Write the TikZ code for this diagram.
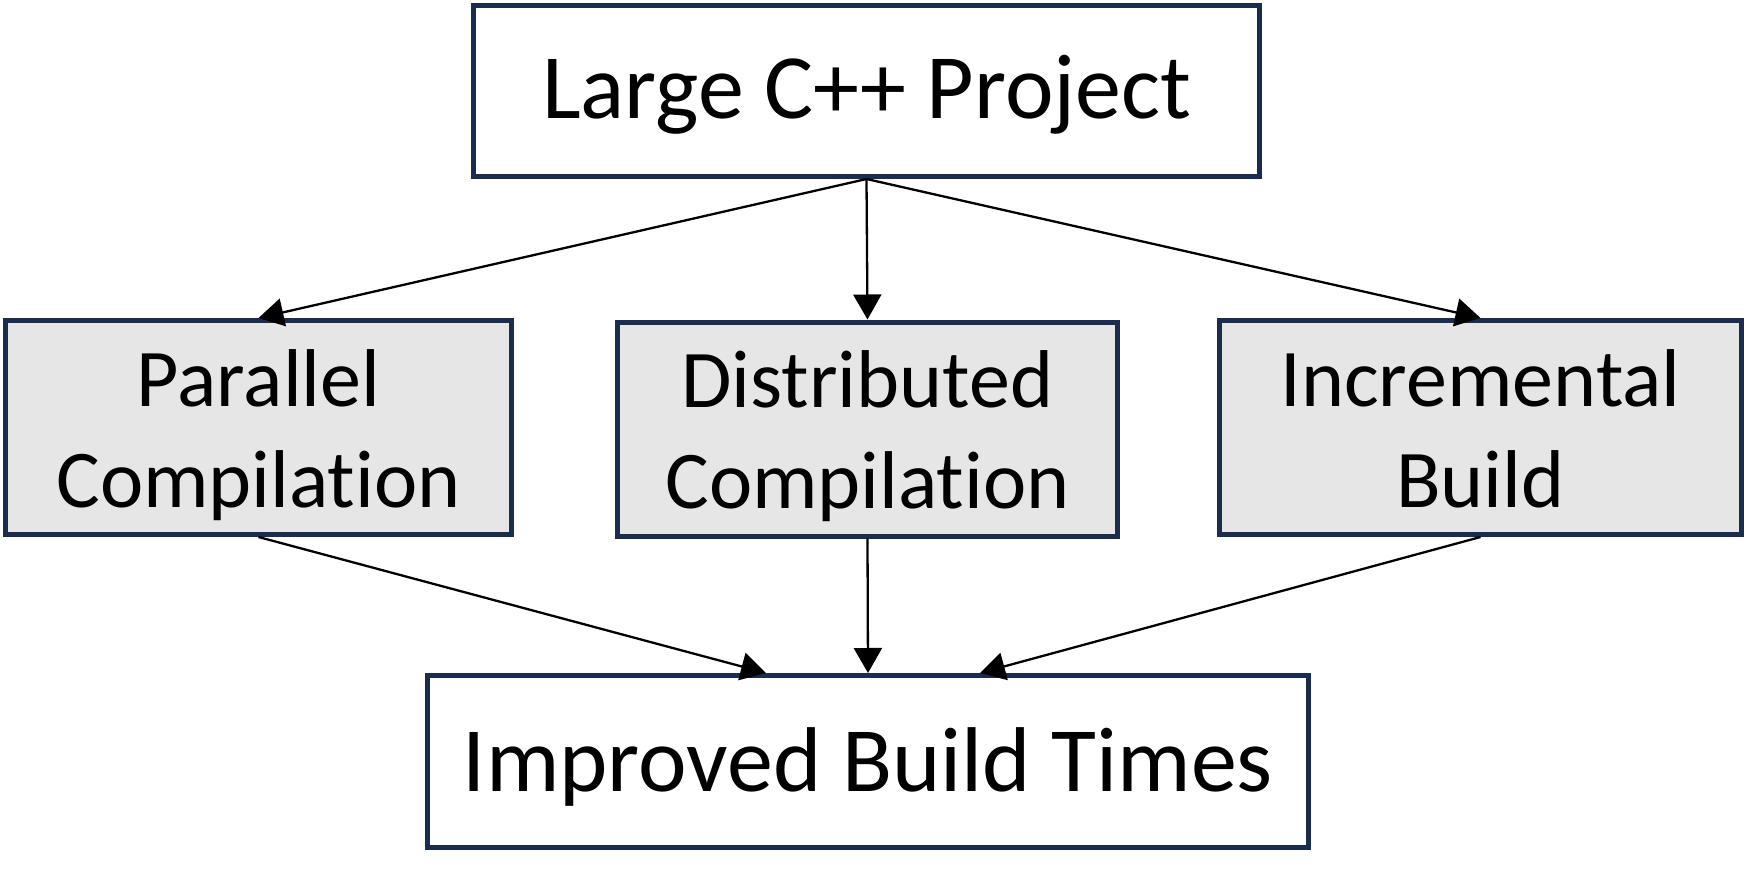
\documentclass[tikz,border=0pt]{standalone}
\usepackage{fontspec}
\setmainfont{Carlito}[Ligatures=NoCommon]
\usetikzlibrary{arrows.meta,calc}
\definecolor{navy}{HTML}{1A2D4F}
\definecolor{boxgray}{HTML}{E6E6E6}
\newcommand{\mytwolines}[2]{\begin{tabular}[b]{@{}c@{}}#1\\#2\end{tabular}}
\tikzset{
  bigbox/.style={draw=navy, line width=2.5pt, fill=white, inner sep=0pt,
    font=\fontsize{46}{55}\selectfont, text depth=6pt},
  midbox/.style={draw=navy, line width=2.5pt, fill=boxgray, inner sep=0pt,
    font=\fontsize{41}{50.5}\selectfont, minimum height=107pt,
    text height=79.5pt, text depth=0pt},
  conn/.style={draw=black, line width=1.15pt, -{Triangle[length=12.5pt, width=14pt]}}
}
\begin{document}
\begin{tikzpicture}[x=0.5pt, y=-0.5pt]
\useasboundingbox (0,0) rectangle (1753,872);
\node[bigbox, minimum width=393pt, minimum height=85.5pt, text height=34pt] (top) at (866.5,91) {Large C++ Project};
\node[midbox, minimum width=253pt] (par) at (258.5,427.5) {\mytwolines{Parallel}{Compilation}};
\node[midbox, minimum width=250pt] (dist) at (867.5,429) {\mytwolines{Distributed}{Compilation}};
\node[midbox, minimum width=261pt] (inc) at (1480.5,427.5) {\mytwolines{Incremental}{Build}};
\node[bigbox, minimum width=440.5pt, minimum height=86pt, text height=36pt] (bot) at (868,761.5) {Improved Build Times};
\coordinate (botl) at ($(bot.north)+(-102,0)$);
\coordinate (botr) at ($(bot.north)+(112,0)$);
\draw[conn] (top.south) -- (par.north);
\draw[conn] (top.south) -- (dist.north);
\draw[conn] (top.south) -- (inc.north);
\draw[conn] (par.south) -- (botl);
\draw[conn] (dist.south) -- (bot.north);
\draw[conn] (inc.south) -- (botr);
\end{tikzpicture}
\end{document}
